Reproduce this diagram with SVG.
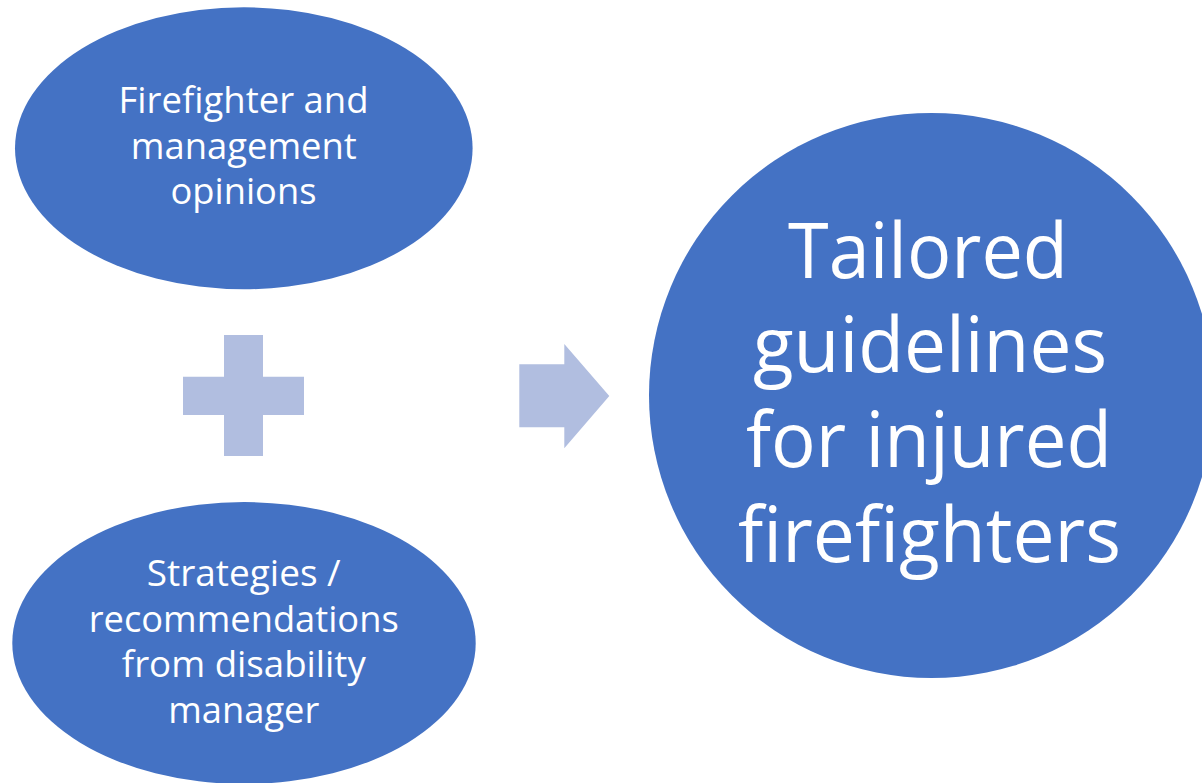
<svg xmlns="http://www.w3.org/2000/svg" width="1202" height="783" viewBox="0 0 1202 783">
  <style>
    .node { fill: #4472C4; }
    .sym { fill: #B1BEE0; }
    .lbl { fill: #FFFFFF; font-family: "Open Sans", "Noto Sans", "Liberation Sans", sans-serif; text-anchor: middle; }
    .sm { font-size: 36px; }
    .lg { font-size: 77px; }
  </style>
  <rect width="1202" height="783" fill="#FFFFFF"/>

  <!-- plus sign and arrow between the inputs and the result -->
  <g id="connectors">
    <polygon class="sym" points="224,335 263,335 263,376.7 304,376.7 304,415 263,415 263,456 224,456 224,415 183,415 183,376.7 224,376.7"/>
    <polygon class="sym" points="519.3,364.3 564.3,364.3 564.3,344 609.3,396 564.3,448.3 564.3,427.3 519.3,427.3"/>
  </g>

  <g id="node-opinions">
    <ellipse class="node" cx="243.8" cy="148.3" rx="228.8" ry="141"/>
    <text class="lbl sm" x="243.5" y="113.3" textLength="250" lengthAdjust="spacingAndGlyphs">Firefighter and</text>
    <text class="lbl sm" x="243.8" y="159.3" textLength="226" lengthAdjust="spacingAndGlyphs">management</text>
    <text class="lbl sm" x="243.5" y="204" textLength="146" lengthAdjust="spacingAndGlyphs">opinions</text>
  </g>

  <g id="node-strategies">
    <ellipse class="node" cx="244" cy="643" rx="231.7" ry="141"/>
    <text class="lbl sm" x="243.7" y="586" textLength="194" lengthAdjust="spacingAndGlyphs">Strategies /</text>
    <text class="lbl sm" x="243.7" y="631.7" textLength="310" lengthAdjust="spacingAndGlyphs">recommendations</text>
    <text class="lbl sm" x="243.8" y="677" textLength="244" lengthAdjust="spacingAndGlyphs">from disability</text>
    <text class="lbl sm" x="243.8" y="722.7" textLength="151" lengthAdjust="spacingAndGlyphs">manager</text>
  </g>

  <g id="node-guidelines">
    <circle class="node" cx="931.5" cy="395.5" r="282.5"/>
    <text class="lbl lg" x="928" y="278.3" textLength="280" lengthAdjust="spacingAndGlyphs">Tailored</text>
    <text class="lbl lg" x="930" y="371.7" textLength="354" lengthAdjust="spacingAndGlyphs">guidelines</text>
    <text class="lbl lg" x="929" y="466.7" textLength="366" lengthAdjust="spacingAndGlyphs">for injured</text>
    <text class="lbl lg" x="929.5" y="561.7" textLength="383" lengthAdjust="spacingAndGlyphs">firefighters</text>
  </g>
</svg>
